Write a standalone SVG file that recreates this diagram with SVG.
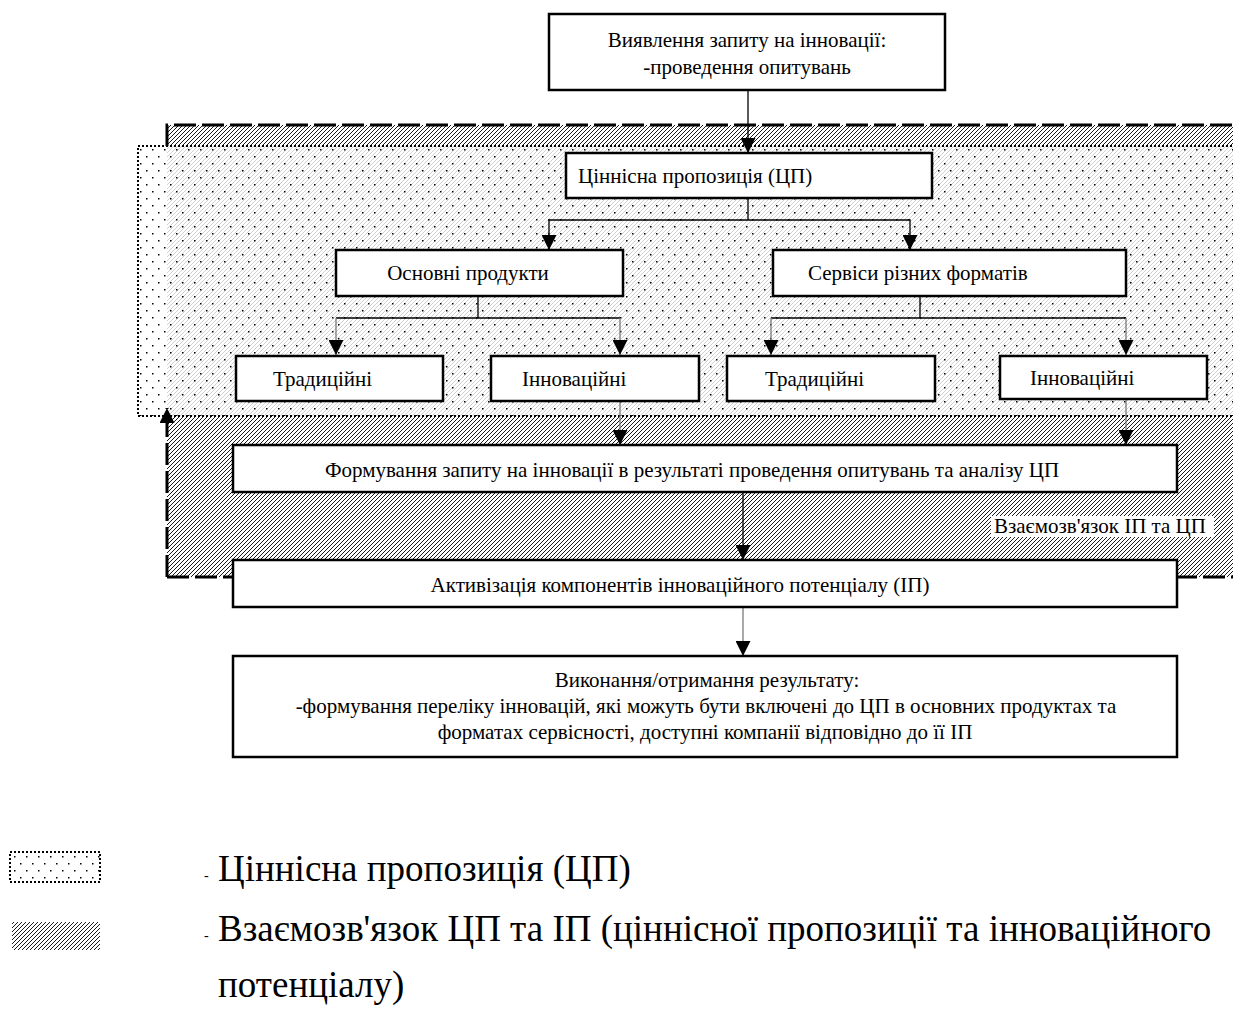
<svg xmlns="http://www.w3.org/2000/svg" width="1233" height="1010" viewBox="0 0 1233 1010">
<defs>
<style>
.box{fill:#fff;stroke:#000;stroke-width:2.5}
.t{font-family:"Liberation Serif","Times New Roman","DejaVu Serif",serif;font-size:21px;fill:#000}
.m{text-anchor:middle}
.c{fill:none;stroke:#000;stroke-width:1.3}
.g{fill:none;stroke:#7a7a7a;stroke-width:1.3}
.dash{fill:none;stroke:#000;stroke-width:3;stroke-dasharray:22 6}
.lg{font-family:"Liberation Serif","Times New Roman","DejaVu Serif",serif;font-size:37px;fill:#000}
.sd{font-family:"Liberation Serif","Times New Roman","DejaVu Serif",serif;font-size:14px;fill:#000}
</style>
<pattern id="hatch" patternUnits="userSpaceOnUse" width="4" height="4">
<path d="M-1,1 L1,-1 M0,4 L4,0 M3,5 L5,3" stroke="#000" stroke-width="0.9"/>
</pattern>
<pattern id="dots" patternUnits="userSpaceOnUse" width="12" height="14">
<rect x="2" y="2" width="1.5" height="1.5" fill="#000"/>
<rect x="8" y="9" width="1.5" height="1.5" fill="#000"/>
</pattern>
<marker id="ah" markerUnits="userSpaceOnUse" viewBox="0 0 14 14" refX="14" refY="7" markerWidth="15" markerHeight="15" orient="auto">
<path d="M0,0 L14,7 L0,14 z" fill="#000"/>
</marker>
</defs>
<rect width="1233" height="1010" fill="#fff"/>

<g id="regions">
<rect x="167" y="125" width="1080" height="452" fill="url(#hatch)"/>
<rect x="138" y="146" width="1110" height="270" fill="#fff" fill-opacity="0.8"/>
<rect x="138" y="146" width="1110" height="270" fill="url(#dots)" stroke="#000" stroke-width="2" stroke-dasharray="2 2"/>
<path class="dash" d="M167,146 V125 H1240"/>
<path class="dash" d="M167,577 H1240"/>
<path class="dash" d="M167,577 V408" marker-end="url(#ah)"/>
</g>

<g id="connectors">
<path class="c" d="M748,90 V153" marker-end="url(#ah)"/>
<path class="c" d="M748,198 V220 M549,250 V220 H910 V250"/>
<path class="c" d="M549,236 V250" marker-end="url(#ah)"/>
<path class="c" d="M910,236 V250" marker-end="url(#ah)"/>
<path class="c" d="M478,296 V318 M336,318 H620"/>
<path class="g" d="M336,318 V355" marker-end="url(#ah)"/>
<path class="g" d="M620,318 V355" marker-end="url(#ah)"/>
<path class="c" d="M920,296 V318 M771,318 H1126"/>
<path class="g" d="M771,318 V355" marker-end="url(#ah)"/>
<path class="g" d="M1126,318 V355" marker-end="url(#ah)"/>
<path class="g" d="M620,401 V445" marker-end="url(#ah)"/>
<path class="g" d="M1126,400 V445" marker-end="url(#ah)"/>
<path class="c" d="M743,492 V560" marker-end="url(#ah)"/>
<path class="g" d="M743,607 V656" marker-end="url(#ah)"/>
</g>

<g id="n-identify">
<rect class="box" x="549" y="14" width="396" height="76"/>
<text class="t m" x="747" y="47">Виявлення запиту на інновації:</text>
<text class="t m" x="747" y="74">-проведення опитувань</text>
</g>

<g id="n-vp">
<rect class="box" x="566" y="153" width="366" height="45"/>
<text class="t" x="578" y="183">Ціннісна пропозиція (ЦП)</text>
</g>

<g id="n-products">
<rect class="box" x="336" y="250" width="287" height="46"/>
<text class="t m" x="468" y="280">Основні продукти</text>
</g>

<g id="n-services">
<rect class="box" x="773" y="250" width="353" height="46"/>
<text class="t" x="808" y="280">Сервіси різних форматів</text>
</g>

<g id="n-trad1">
<rect class="box" x="236" y="356" width="207" height="45"/>
<text class="t" x="273" y="386">Традиційні</text>
</g>
<g id="n-innov1">
<rect class="box" x="491" y="356" width="208" height="45"/>
<text class="t" x="522" y="386">Інноваційні</text>
</g>
<g id="n-trad2">
<rect class="box" x="727" y="356" width="208" height="45"/>
<text class="t" x="765" y="386">Традиційні</text>
</g>
<g id="n-innov2">
<rect class="box" x="1000" y="356" width="207" height="43"/>
<text class="t" x="1030" y="385">Інноваційні</text>
</g>

<g id="n-request">
<rect class="box" x="233" y="445" width="944" height="47"/>
<text class="t m" x="692" y="477">Формування запиту на інновації в результаті проведення опитувань та аналізу ЦП</text>
</g>

<g id="label-link">
<rect x="991" y="516" width="223" height="21" fill="#fff"/>
<text class="t" x="994" y="533">Взаємозв'язок ІП та ЦП</text>
</g>

<g id="n-activate">
<rect class="box" x="233" y="560" width="944" height="47"/>
<text class="t m" x="680" y="592">Активізація компонентів інноваційного потенціалу (ІП)</text>
</g>

<g id="n-result">
<rect class="box" x="233" y="656" width="944" height="101"/>
<text class="t m" x="707" y="687">Виконання/отримання результату:</text>
<text class="t m" x="706" y="713">-формування переліку інновацій, які можуть бути включені до ЦП в основних продуктах та</text>
<text class="t m" x="705" y="739">форматах сервісності, доступні компанії відповідно до її ІП</text>
</g>

<g id="legend">
<rect x="10" y="852" width="90" height="30" fill="url(#dots)" stroke="#000" stroke-width="2" stroke-dasharray="2 2"/>
<rect x="12" y="922" width="88" height="28" fill="url(#hatch)"/>
<text class="sd" x="204" y="880">-</text>
<text class="lg" x="218" y="881">Ціннісна пропозиція (ЦП)</text>
<text class="sd" x="204" y="940">-</text>
<text class="lg" x="218" y="941">Взаємозв'язок ЦП та ІП (ціннісної пропозиції та інноваційного</text>
<text class="lg" x="218" y="997">потенціалу)</text>
</g>
</svg>
